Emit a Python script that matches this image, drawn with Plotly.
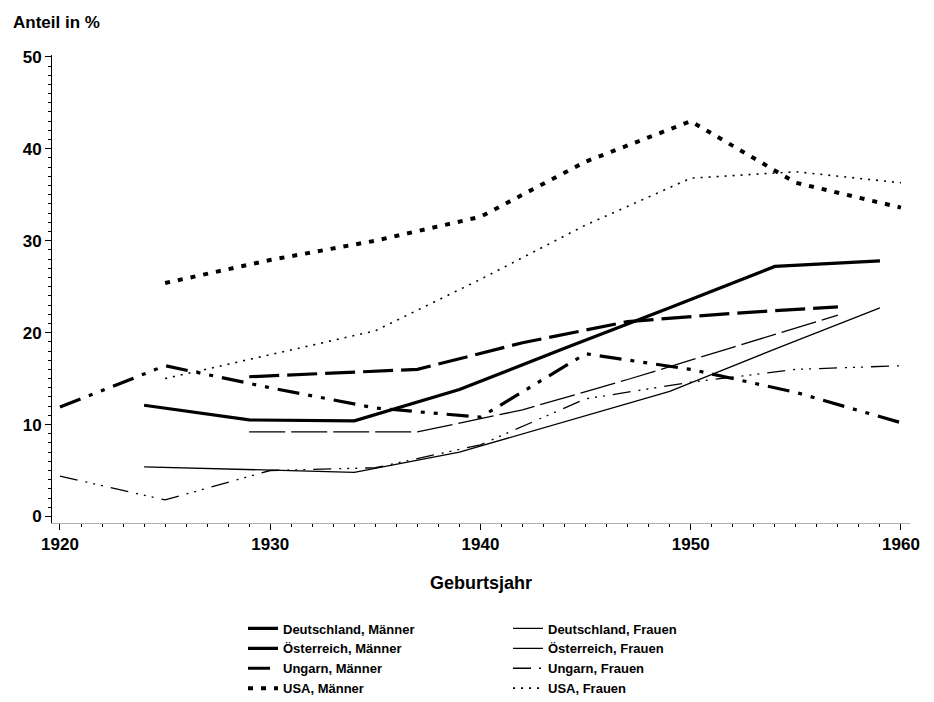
import plotly.graph_objects as go

# ---- data ----
years_de = [1924, 1929, 1934, 1939, 1944, 1949, 1954, 1959]
de_m = [12.1, 10.5, 10.4, 13.8, 18.3, 22.7, 27.2, 27.8]
de_f = [5.4, 5.1, 4.8, 7.0, 10.3, 13.6, 18.2, 22.7]

years_at = [1929, 1937, 1942, 1947, 1952, 1957]
at_m = [15.2, 16.0, 18.9, 21.2, 22.1, 22.8]
at_f = [9.2, 9.2, 11.6, 14.9, 18.4, 21.9]

years_hu = [1920, 1925, 1930, 1935, 1940, 1945, 1950, 1955, 1960]
hu_m = [11.9, 16.4, 14.0, 11.8, 10.8, 17.7, 16.0, 13.5, 10.2]
hu_f = [4.4, 1.8, 5.0, 5.3, 7.8, 12.8, 14.6, 16.0, 16.4]

years_us = [1925, 1930, 1935, 1940, 1945, 1950, 1955, 1960]
us_m = [25.4, 27.9, 30.0, 32.6, 38.6, 43.0, 36.3, 33.6]
us_f = [15.0, 17.6, 20.2, 25.8, 31.7, 36.8, 37.5, 36.3]

x_ticks = [1920, 1930, 1940, 1950, 1960]
y_ticks = [0, 10, 20, 30, 40, 50]

FONT = "Liberation Sans"
OFF = 8  # page body margin in the browser
W, H = 934 - OFF, 702 - OFF
L, T = 52 - OFF, 55 - OFF
PLOT_RIGHT, PLOT_BOTTOM = 910 - OFF, 523 - OFF
R, B = W - PLOT_RIGHT, H - PLOT_BOTTOM
PW, PH = W - L - R, H - T - B


def px_x(sx):
    return (sx - OFF - L) / PW


def px_y(sy):
    return (PLOT_BOTTOM - (sy - OFF)) / PH


fig = go.Figure()


def add(x, y, name, width, dash, legend):
    fig.add_trace(go.Scatter(
        x=x, y=y, mode="lines", name=name, legend=legend,
        line=dict(color="black", width=width, dash=dash),
        hoverinfo="skip"))


thick = 3.2
thin = 1.3
add(years_de, de_m, "Deutschland, Männer", thick, "solid", "legend")
add(years_at, at_m, "Österreich, Männer", thick, "30px,8px", "legend")
add(years_hu, hu_m, "Ungarn, Männer", thick, "22px,9px,4px,9px,4px,9px", "legend")
add(years_us, us_m, "USA, Männer", 4, "5px,8px", "legend")
add(years_de, de_f, "Deutschland, Frauen", thin, "solid", "legend2")
add(years_at, at_f, "Österreich, Frauen", thin, "36px,6px", "legend2")
add(years_hu, hu_f, "Ungarn, Frauen", thin, "18px,8px,2px,6px,2px,6px,2px,8px", "legend2")
add(years_us, us_f, "USA, Frauen", 1.6, "2px,6px", "legend2")

legend_font = dict(family=FONT, size=13, color="black", weight="bold")
leg_top = px_y(613.5)

fig.update_layout(
    width=W, height=H,
    margin=dict(l=L, r=R, t=T, b=B, pad=0, autoexpand=False),
    paper_bgcolor="white", plot_bgcolor="white",
    font=dict(family=FONT, color="black"),
    showlegend=True,
    legend=dict(x=px_x(283 - 40), y=leg_top, xanchor="left", yanchor="top",
                orientation="v", font=legend_font, bgcolor="rgba(0,0,0,0)",
                tracegroupgap=0),
    legend2=dict(x=px_x(548 - 40), y=leg_top, xanchor="left", yanchor="top",
                 orientation="v", font=legend_font, bgcolor="rgba(0,0,0,0)",
                 tracegroupgap=0),
    xaxis=dict(
        range=[1919.62, 1960.43], tickvals=x_ticks, ticktext=[str(v) for v in x_ticks],
        ticks="outside", ticklen=6, tickwidth=1, tickcolor="black",
        showgrid=False, zeroline=False, showline=True, linecolor="#b0b0b0", linewidth=1,
        tickfont=dict(family=FONT, size=17, color="black", weight="bold"),
        minor=dict(dtick=1, tick0=1920, ticks="outside", ticklen=3, tickcolor="black",
                   showgrid=False),
    ),
    yaxis=dict(
        range=[-0.71, 50.2], tickvals=y_ticks, ticktext=[str(v) for v in y_ticks],
        ticks="outside", ticklen=6, tickwidth=1, tickcolor="black",
        showgrid=False, zeroline=False, showline=True, linecolor="black", linewidth=1,
        tickfont=dict(family=FONT, size=17, color="black", weight="bold"),
        minor=dict(dtick=1, tick0=0, ticks="outside", ticklen=3, tickcolor="black",
                   showgrid=False),
    ),
    annotations=[
        dict(text="Anteil in %", xref="paper", yref="paper",
             x=px_x(11), y=px_y(11), xanchor="left", yanchor="top",
             showarrow=False, font=dict(family=FONT, size=17, color="black", weight="bold")),
        dict(text="Geburtsjahr", xref="paper", yref="paper",
             x=0.5, y=px_y(583), xanchor="center", yanchor="middle",
             showarrow=False, font=dict(family=FONT, size=18, color="black", weight="bold")),
    ],
)

fig.write_html("out.html")
